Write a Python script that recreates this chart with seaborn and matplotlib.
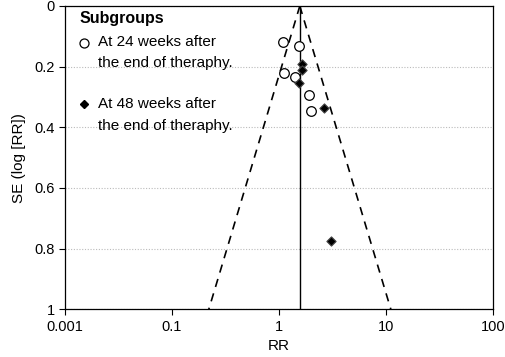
import numpy as np
import pandas as pd
import seaborn as sns
import matplotlib
matplotlib.use('Agg')
import matplotlib.pyplot as plt

# subgroup data
rr_24 = [1.10, 1.55, 1.12, 1.41, 1.90, 1.98]
se_24 = [0.118, 0.132, 0.222, 0.235, 0.292, 0.345]
rr_48 = [1.65, 1.66, 1.54, 2.63, 3.08]
se_48 = [0.191, 0.211, 0.253, 0.336, 0.776]
pooled_rr = 1.57
x_ticks = [0.01, 0.1, 1, 10, 100]
x_tick_labels = ['0.001', '0.1', '1', '10', '100']
y_ticks = [0, 0.2, 0.4, 0.6, 0.8, 1]
y_tick_labels = ['0', '0.2', '0.4', '0.6', '0.8', '1']
legend_title = 'Subgroups'
legend_lines = [['At 24 weeks after', 'the end of theraphy.'],
                ['At 48 weeks after', 'the end of theraphy.']]

df = pd.DataFrame({
    'rr': rr_24 + rr_48,
    'se': se_24 + se_48,
    'group': ['24'] * len(rr_24) + ['48'] * len(rr_48),
})

sns.set_style('white')
plt.rcParams['font.family'] = ['Liberation Sans', 'DejaVu Sans']
plt.rcParams['text.color'] = 'black'
plt.rcParams['axes.labelcolor'] = 'black'

fig = plt.figure(figsize=(5.05, 3.57), dpi=100)
ax = fig.add_axes([0.1287, 0.1336, 0.847, 0.8496])

# funnel: pooled +/- 1.96 SE on log scale
se_line = np.array([0, 1.0])
lo = np.exp(np.log(pooled_rr) - 1.96 * se_line)
hi = np.exp(np.log(pooled_rr) + 1.96 * se_line)
ax.plot(lo, se_line, color='black', ls=(0, (5, 4)), lw=1.2, zorder=2)
ax.plot(hi, se_line, color='black', ls=(0, (5, 4)), lw=1.2, zorder=2)
ax.plot([pooled_rr, pooled_rr], [0, 1], color='black', lw=1.0, zorder=2)

d24 = df[df.group == '24']
d48 = df[df.group == '48']
sns.scatterplot(data=d24, x='rr', y='se', marker='o', s=48, facecolor='white',
                edgecolor='black', linewidth=0.9, ax=ax, zorder=3)
sns.scatterplot(data=d48, x='rr', y='se', marker='D', s=22, color='black',
                edgecolor='#444444', linewidth=0.8, ax=ax, zorder=3)

ax.set_xscale('log')
ax.set_xlim(0.01, 100)
ax.set_ylim(1, 0)
ax.set_xticks(x_ticks)
ax.set_xticklabels(x_tick_labels)
ax.minorticks_off()
ax.set_yticks(y_ticks)
ax.set_yticklabels(y_tick_labels)
ax.yaxis.grid(True, ls=(0, (1, 1.5)), color='#bbbbbb', lw=0.8)
ax.tick_params(axis='both', direction='out', length=4, width=0.8, labelsize=10.5,
               colors='black', left=True, bottom=True)
for s in ax.spines.values():
    s.set_color('black')
    s.set_linewidth(0.9)

ax.set_xlabel('RR', fontsize=11, labelpad=4)
ax.set_ylabel('SE (log [RR])', fontsize=11, labelpad=6)

# legend block, marker aligned with first line of each entry
ax.text(0.035, 0.960, legend_title, transform=ax.transAxes, fontsize=11.5,
        fontweight='bold', ha='left', va='center')
ax.plot([0.0444], [0.878], transform=ax.transAxes, marker='o', ls='', ms=6.5,
        mfc='white', mec='black', mew=0.9, clip_on=False)
ax.plot([0.0444], [0.677], transform=ax.transAxes, marker='D', ls='', ms=4,
        color='black', clip_on=False)
for lines, ys in zip(legend_lines, [(0.881, 0.812), (0.677, 0.604)]):
    for txt, y in zip(lines, ys):
        ax.text(0.0772, y, txt, transform=ax.transAxes, fontsize=11,
                ha='left', va='center')

fig.savefig('out.png', dpi=100)
